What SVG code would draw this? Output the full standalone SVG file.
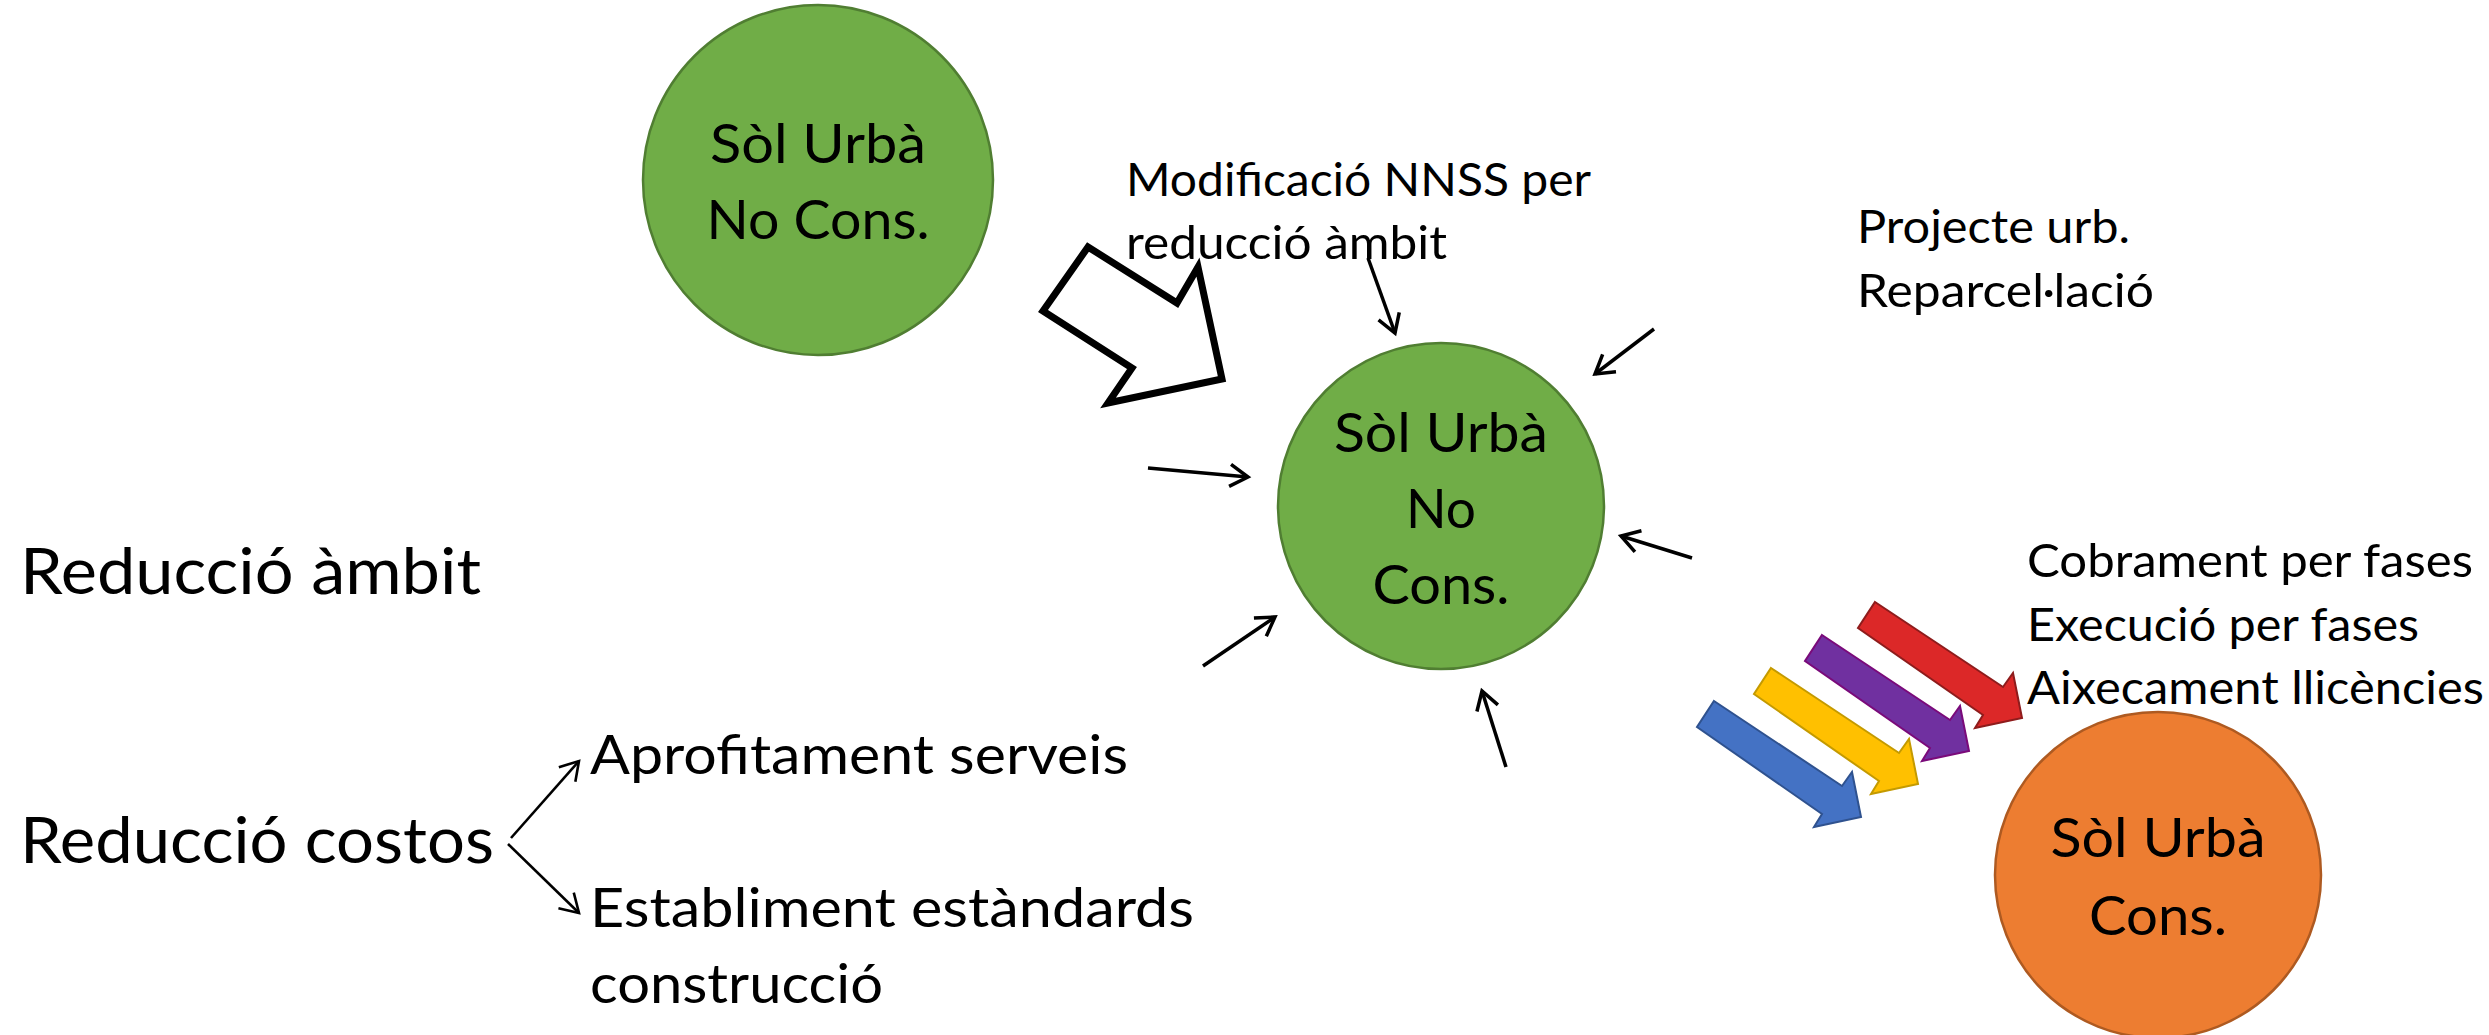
<svg xmlns="http://www.w3.org/2000/svg" xmlns:xlink="http://www.w3.org/1999/xlink" width="2489" height="1035" viewBox="0 0 2489 1035">
  <style>
    text { font-family: Lato, "Open Sans", sans-serif; fill: #000; }
    .node-text { font-size: 55px; text-anchor: middle; }
    .label { font-size: 47px; }
    .big { font-size: 64px; }
    .mid { font-size: 55px; }
    .green { fill: #70AD47; stroke: #507E32; stroke-width: 2.5; }
    .orange { fill: #ED7D31; stroke: #AE5A21; stroke-width: 2.5; }
    .conn { stroke: #000; stroke-width: 3.5; fill: none; marker-end: url(#open); }
    .fork { stroke: #000; stroke-width: 2.6; fill: none; marker-end: url(#openThin); }
    .block { fill: none; stroke: #000; stroke-width: 7; stroke-linejoin: miter; }
    .rb { stroke-width: 2; stroke-linejoin: miter; }
  </style>
  <defs>
    <marker id="open" markerUnits="userSpaceOnUse" viewBox="-24 -15 28 30" refX="0" refY="0" markerWidth="28" markerHeight="30" orient="auto" overflow="visible">
      <path d="M-18,-11 L0,0 L-18,11" fill="none" stroke="#000" stroke-width="3.5" stroke-linecap="butt"/>
    </marker>
    <marker id="openThin" markerUnits="userSpaceOnUse" viewBox="-24 -15 28 30" refX="0" refY="0" markerWidth="28" markerHeight="30" orient="auto" overflow="visible">
      <path d="M-18,-11 L0,0 L-18,11" fill="none" stroke="#000" stroke-width="2.6"/>
    </marker>
    <path id="rbArrow" d="M0,0 L128,85 L138,71 L147,116 L100,126 L108,113 L-17,26 Z"/>
  </defs>

  <g id="node-sol-urba-no-cons-1">
    <circle class="green" cx="818" cy="180" r="175"/>
    <text class="node-text" x="818" y="163" textLength="216" lengthAdjust="spacingAndGlyphs">Sòl Urbà</text>
    <text class="node-text" x="818" y="239" textLength="223" lengthAdjust="spacingAndGlyphs">No Cons.</text>
  </g>

  <g id="node-sol-urba-no-cons-2">
    <circle class="green" cx="1441" cy="506" r="163"/>
    <text class="node-text" x="1441" y="452" textLength="214" lengthAdjust="spacingAndGlyphs">Sòl Urbà</text>
    <text class="node-text" x="1441" y="528" textLength="70" lengthAdjust="spacingAndGlyphs">No</text>
    <text class="node-text" x="1441" y="604" textLength="137" lengthAdjust="spacingAndGlyphs">Cons.</text>
  </g>

  <g id="node-sol-urba-cons">
    <circle class="orange" cx="2158" cy="875" r="163"/>
    <text class="node-text" x="2158" y="857" textLength="215" lengthAdjust="spacingAndGlyphs">Sòl Urbà</text>
    <text class="node-text" x="2158" y="935" textLength="138" lengthAdjust="spacingAndGlyphs">Cons.</text>
  </g>

  <g id="label-modificacio">
    <text class="label" x="1126" y="196" textLength="465" lengthAdjust="spacingAndGlyphs">Modificació NNSS per</text>
    <text class="label" x="1126" y="259" textLength="321" lengthAdjust="spacingAndGlyphs">reducció àmbit</text>
  </g>

  <g id="label-projecte">
    <text class="label" x="1857" y="243" textLength="273" lengthAdjust="spacingAndGlyphs">Projecte urb.</text>
    <text class="label" x="1857" y="307" textLength="297" lengthAdjust="spacingAndGlyphs">Reparcel·lació</text>
  </g>

  <g id="label-fases">
    <text class="label" x="2027" y="577" textLength="446" lengthAdjust="spacingAndGlyphs">Cobrament per fases</text>
    <text class="label" x="2027" y="641" textLength="392" lengthAdjust="spacingAndGlyphs">Execució per fases</text>
    <text class="label" x="2027" y="704" textLength="457" lengthAdjust="spacingAndGlyphs">Aixecament llicències</text>
  </g>

  <g id="label-reduccio-ambit">
    <text class="big" x="20" y="594" textLength="461" lengthAdjust="spacingAndGlyphs">Reducció àmbit</text>
  </g>

  <g id="label-reduccio-costos">
    <text class="big" x="20" y="863" textLength="474" lengthAdjust="spacingAndGlyphs">Reducció costos</text>
  </g>

  <g id="label-aprofitament">
    <text class="mid" x="590" y="774" textLength="538" lengthAdjust="spacingAndGlyphs">Aprofitament serveis</text>
  </g>

  <g id="label-establiment">
    <text class="mid" x="590" y="927" textLength="604" lengthAdjust="spacingAndGlyphs">Establiment estàndards</text>
    <text class="mid" x="590" y="1003" textLength="293" lengthAdjust="spacingAndGlyphs">construcció</text>
  </g>

  <g id="block-arrow">
    <polygon class="block" points="1088,247 1177,303 1198,267 1222,379 1108,403 1132,368 1043,311"/>
  </g>

  <g id="rainbow-arrows">
    <use xlink:href="#rbArrow" class="rb" transform="translate(1875,602)" fill="#DC2828" stroke="#8E1C1C"/>
    <use xlink:href="#rbArrow" class="rb" transform="translate(1822,635)" fill="#7030A0" stroke="#7A0A7A"/>
    <use xlink:href="#rbArrow" class="rb" transform="translate(1771,668)" fill="#FFC000" stroke="#C49A00"/>
    <use xlink:href="#rbArrow" class="rb" transform="translate(1714,701)" fill="#4472C4" stroke="#2F528F"/>
  </g>

  <g id="connectors">
    <line class="conn" x1="1368" y1="258" x2="1395" y2="333"/>
    <line class="conn" x1="1654" y1="329" x2="1595" y2="374"/>
    <line class="conn" x1="1692" y1="558" x2="1621" y2="536"/>
    <line class="conn" x1="1148" y1="468" x2="1248" y2="477"/>
    <line class="conn" x1="1203" y1="666" x2="1275" y2="617"/>
    <line class="conn" x1="1506" y1="767" x2="1482" y2="691"/>
    <line class="fork" x1="511" y1="838" x2="579" y2="761"/>
    <line class="fork" x1="508" y1="844" x2="579" y2="913"/>
  </g>
</svg>
